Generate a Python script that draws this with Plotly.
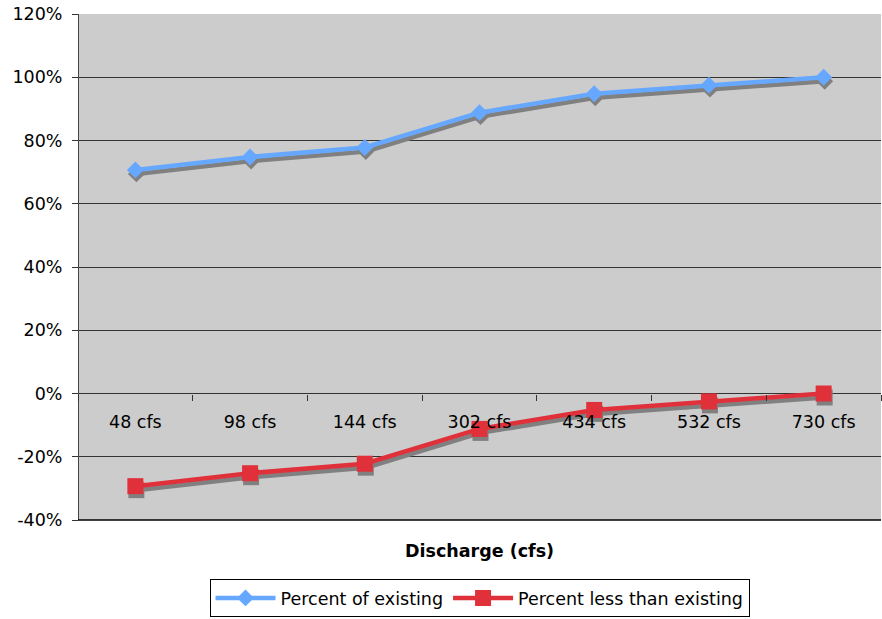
import plotly.graph_objects as go

categories = ["48 cfs", "98 cfs", "144 cfs", "302 cfs", "434 cfs", "532 cfs", "730 cfs"]
percent_of_existing = [0.707, 0.748, 0.778, 0.888, 0.948, 0.975, 1.000]
percent_less_than_existing = [-0.293, -0.252, -0.222, -0.112, -0.052, -0.025, 0.000]
y_tick_values = [-0.4, -0.2, 0.0, 0.2, 0.4, 0.6, 0.8, 1.0, 1.2]
y_tick_labels = ["-40%", "-20%", "0%", "20%", "40%", "60%", "80%", "100%", "120%"]
x_title = "Discharge (cfs)"

FONT = "DejaVu Sans"
FS = 17.5
BLUE = "#66A8FF"
RED = "#E0303A"
SHADOW = "#808080"
GRID = "#333333"

series = [
    ("Percent of existing", percent_of_existing, BLUE, "diamond", 13),
    ("Percent less than existing", percent_less_than_existing, RED, "square", 16),
]

fig = go.Figure()

# drop shadows (drawn on slightly shifted hidden axes)
for name, vals, color, sym, size in series:
    fig.add_trace(go.Scatter(
        x=categories, y=vals, xaxis="x", yaxis="y", mode="lines+markers",
        line=dict(color=SHADOW, width=4.5),
        marker=dict(symbol=sym, size=size, color=SHADOW, line=dict(width=0)),
        showlegend=False, hoverinfo="skip"))

# real series
for name, vals, color, sym, size in series:
    fig.add_trace(go.Scatter(
        x=categories, y=vals, xaxis="x2", yaxis="y2", mode="lines+markers", name=name,
        line=dict(color=color, width=4.5),
        marker=dict(symbol=sym, size=size, color=color, line=dict(width=0))))

fig.update_layout(
    width=882, height=619,
    margin=dict(l=78, r=1, t=14, b=99, autoexpand=False),
    paper_bgcolor="white", plot_bgcolor="#CCCCCC",
    font=dict(family=FONT, size=FS, color="black"),
    xaxis=dict(type="category", categoryorder="array", categoryarray=categories,
               range=[-0.5 - 0.009, 6.5 - 0.009], visible=False, domain=[0, 1]),
    yaxis=dict(range=[-0.4 + 0.0126, 1.2 + 0.0126], visible=False,
               showgrid=False, zeroline=False, domain=[0, 1]),
    xaxis2=dict(type="category", categoryorder="array", categoryarray=categories,
                range=[-0.5, 6.5], overlaying="x", anchor="free", position=0.25,
                tickson="boundaries", ticks="outside", ticklen=6, tickwidth=1,
                tickcolor=GRID, showline=False, showgrid=False, zeroline=False,
                tickfont=dict(family=FONT, size=FS, color="black"),
                ticklabelstandoff=16),
    yaxis2=dict(range=[-0.4, 1.2], overlaying="y", anchor="free", position=0, side="left",
                tickvals=y_tick_values, ticktext=y_tick_labels,
                showgrid=True, gridcolor=GRID, gridwidth=1,
                zeroline=True, zerolinecolor=GRID, zerolinewidth=1,
                showline=True, linecolor="#444444", linewidth=1,
                ticks="outside", ticklen=6, tickcolor=GRID,
                tickfont=dict(family=FONT, size=FS, color="black"),
                ticklabelstandoff=6),
    legend=dict(orientation="h", x=0.5, xanchor="center", y=-0.1917, yanchor="bottom",
                bordercolor="black", borderwidth=1, bgcolor="white",
                font=dict(family=FONT, size=FS, color="black"),
                itemwidth=60, traceorder="normal"),
    annotations=[dict(text="<b>" + x_title + "</b>", xref="paper", yref="paper",
                      x=0.5, y=-0.0613, xanchor="center", yanchor="middle",
                      showarrow=False, font=dict(family=FONT, size=FS, color="black"))],
    shapes=[dict(type="line", xref="paper", yref="paper", x0=0, x1=1, y0=0, y1=0,
                 line=dict(color="black", width=1.5))],
    showlegend=True,
)

fig.write_html(
    "out.html",
    config={"displayModeBar": False},
    post_script="document.body.style.margin='0';document.body.style.padding='0';"
                "document.documentElement.style.overflow='hidden';",
)
